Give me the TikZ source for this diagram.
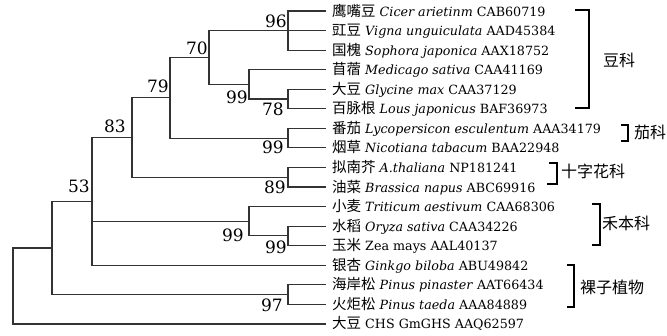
\documentclass[tikz,border=0pt]{standalone}
\usepackage{fontspec}
\setmainfont{DejaVu Serif}
\newfontfamily\cjk{Noto Sans CJK SC}
\newcommand{\zh}[1]{{\cjk\fontsize{14.5}{14.5}\selectfont #1}}
\begin{document}
\begin{tikzpicture}[x=1pt,y=-1pt,
  br/.style={draw=black!80, line width=1.1pt},
  bs/.style={font=\fontsize{17}{17}\selectfont, inner sep=0pt},
  leaf/.style={anchor=base west, inner sep=0pt, font=\fontsize{12.7}{12.7}\selectfont},
  fam/.style={line width=1.8pt, draw=black},
  famlab/.style={font=\cjk\fontsize{16}{16}\selectfont, inner sep=0pt}]
\useasboundingbox (0,0) rectangle (667,335);
% leaf ends
\coordinate (l1) at (326,11);
\coordinate (l2) at (326,30.56);
\coordinate (l3) at (326,50.12);
\coordinate (l4) at (326,69.68);
\coordinate (l5) at (326,89.24);
\coordinate (l6) at (326,108.8);
\coordinate (l7) at (326,128.36);
\coordinate (l8) at (326,147.92);
\coordinate (l9) at (326,167.48);
\coordinate (l10) at (326,187.04);
\coordinate (l11) at (326,206.6);
\coordinate (l12) at (326,226.16);
\coordinate (l13) at (326,245.72);
\coordinate (l14) at (326,265.28);
\coordinate (l15) at (326,284.84);
\coordinate (l16) at (326,304.4);
\coordinate (l17) at (326,323.96);
% internal nodes
\coordinate (n96) at (288,30.56);
\coordinate (n78) at (288,99.02);
\coordinate (n99a) at (249,84.35);
\coordinate (n70) at (209,57.455);
\coordinate (n99b) at (288,138.14);
\coordinate (n79) at (170,97.8);
\coordinate (n89) at (288,177.26);
\coordinate (n83) at (132,137.53);
\coordinate (n99d) at (288,235.94);
\coordinate (n99c) at (249,221.27);
\coordinate (n53) at (92,201.4);
\coordinate (n97) at (288,294.62);
\coordinate (n52) at (52,248.01);
\coordinate (root) at (13,285.99);
% branches
\draw[br] (l1) -| (n96) |- (l3);
\draw[br] (n96) -- (l2);
\draw[br] (l5) -| (n78) |- (l6);
\draw[br] (l4) -| (n99a) |- (n78);
\draw[br] (n96) -| (n70) |- (n99a);
\draw[br] (l7) -| (n99b) |- (l8);
\draw[br] (n70) -| (n79) |- (n99b);
\draw[br] (l9) -| (n89) |- (l10);
\draw[br] (n79) -| (n83) |- (n89);
\draw[br] (l12) -| (n99d) |- (l13);
\draw[br] (l11) -| (n99c) |- (n99d);
\draw[br] (n83) -| (n53) |- (l14);
\draw[br] (n99c) -- (n99c -| n53);
\draw[br] (l15) -| (n97) |- (l16);
\draw[br] (n53) -| (n52) |- (n97);
\draw[br] (n52) -| (root) |- (l17);
% bootstrap values
\node[bs] (b96) at (276,21) {96};
\node[bs] (b70) at (197,48) {70};
\node[bs] (b99a) at (237,97) {99};
\node[bs] (b78) at (273,109) {78};
\node[bs] (b79) at (158,86) {79};
\node[bs] (b99b) at (273,147) {99};
\node[bs] (b83) at (115,126) {83};
\node[bs] (b89) at (275,187) {89};
\node[bs] (b53) at (79,186) {53};
\node[bs] (b99c) at (233,235) {99};
\node[bs] (b99d) at (276,247) {99};
\node[bs] (b97) at (272,305) {97};
% leaf labels
\node[leaf] (t1) at (332,16) {\zh{鹰嘴豆} \textit{Cicer arietinm} CAB60719};
\node[leaf] (t2) at (332,35.56) {\zh{豇豆} \textit{Vigna unguiculata} AAD45384};
\node[leaf] (t3) at (332,55.12) {\zh{国槐} \textit{Sophora japonica} AAX18752};
\node[leaf] (t4) at (332,74.68) {\zh{苜蓿} \textit{Medicago sativa} CAA41169};
\node[leaf] (t5) at (332,94.24) {\zh{大豆} \textit{Glycine max} CAA37129};
\node[leaf] (t6) at (332,113.8) {\zh{百脉根} \textit{Lous japonicus} BAF36973};
\node[leaf] (t7) at (332,133.36) {\zh{番茄} \textit{Lycopersicon esculentum} AAA34179};
\node[leaf] (t8) at (332,152.92) {\zh{烟草} \textit{Nicotiana tabacum} BAA22948};
\node[leaf] (t9) at (332,172.48) {\zh{拟南芥} \textit{A.thaliana} NP181241};
\node[leaf] (t10) at (332,192.04) {\zh{油菜} \textit{Brassica napus} ABC69916};
\node[leaf] (t11) at (332,211.6) {\zh{小麦} \textit{Triticum aestivum} CAA68306};
\node[leaf] (t12) at (332,231.16) {\zh{水稻} \textit{Oryza sativa} CAA34226};
\node[leaf] (t13) at (332,250.72) {\zh{玉米} Zea mays AAL40137};
\node[leaf] (t14) at (332,270.28) {\zh{银杏} \textit{Ginkgo biloba} ABU49842};
\node[leaf] (t15) at (332,289.84) {\zh{海岸松} \textit{Pinus pinaster} AAT66434};
\node[leaf] (t16) at (332,309.4) {\zh{火炬松} \textit{Pinus taeda} AAA84889};
\node[leaf] (t17) at (332,328.96) {\zh{大豆} CHS GmGHS AAQ62597};
% family brackets
\draw[fam] (575,10) -- (589,10) -- (589,108) -- (575,108);
\node[famlab] (f1) at (619,60) {豆科};
\draw[fam] (621,125) -- (628,125) -- (628,141) -- (621,141);
\node[famlab] (f2) at (650,132) {茄科};
\draw[fam] (549,163) -- (557,163) -- (557,184) -- (547,184);
\node[famlab] (f3) at (593,171) {十字花科};
\draw[fam] (592,204) -- (600,204) -- (600,245) -- (592,245);
\node[famlab] (f4) at (626,223) {禾本科};
\draw[fam] (567,265) -- (574,265) -- (574,307) -- (567,307);
\node[famlab] (f5) at (612,287) {裸子植物};
\end{tikzpicture}
\end{document}
